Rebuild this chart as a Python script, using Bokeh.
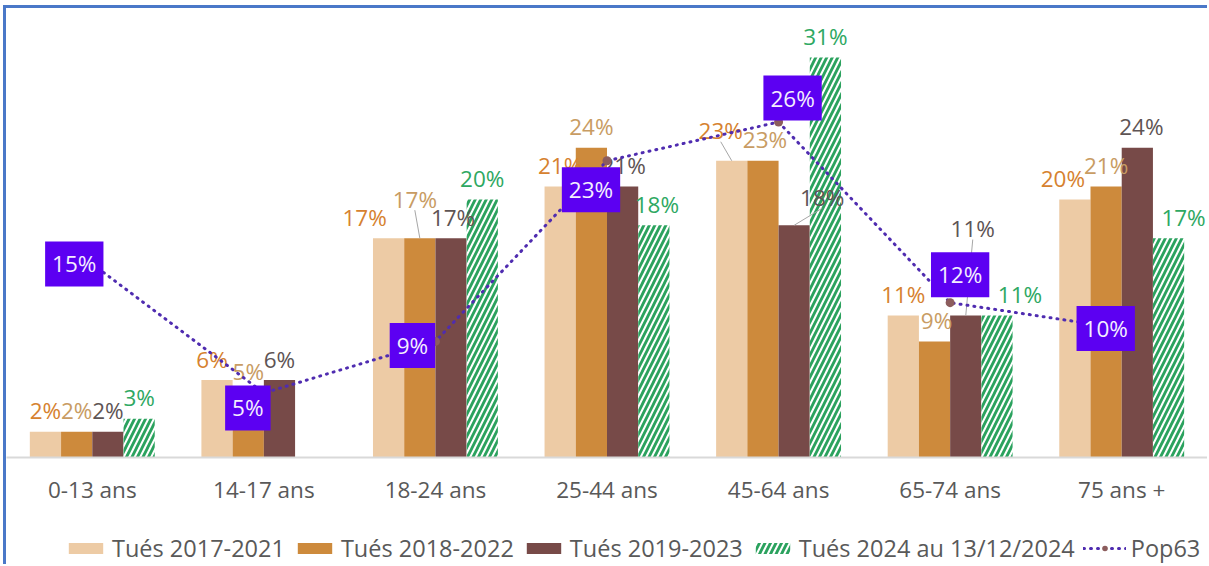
import math
from bokeh.plotting import figure
from bokeh.layouts import column
from bokeh.models import FactorRange, ColumnDataSource, Legend, LegendItem, Range1d
from bokeh.transform import dodge
from bokeh.core.properties import value
from bokeh.embed import file_html
from bokeh.resources import INLINE

# ---------------- data ----------------
categories = ["0-13 ans", "14-17 ans", "18-24 ans", "25-44 ans", "45-64 ans", "65-74 ans", "75 ans +"]
tues_2017_2021 = [2, 6, 17, 21, 23, 11, 20]
tues_2018_2022 = [2, 5, 17, 24, 23, 9, 21]
tues_2019_2023 = [2, 6, 17, 21, 18, 11, 24]
tues_2024 = [3, None, 20, 18, 31, 11, 17]
pop63 = [15, 5, 9, 23, 26, 12, 10]
series_names = ["Tués 2017-2021", "Tués 2018-2022", "Tués 2019-2023", "Tués 2024 au 13/12/2024"]
pop_name = "Pop63"

# ---------------- styles ----------------
FONT = "Open Sans"
FS = "22.5px"
LEG_FS = "23.5px"
bar_colors = ["#EDCBA5", "#CD8A3C", "#774A48", "#FFFFFF"]
label_colors = ["#D6822F", "#C89C63", "#5E5454", "#2EA862"]
hatch_color = "#2BA25E"
pop_line_color = "#4F2CB0"
pop_marker_color = "#8C5D5D"
pop_box_color = "#5C00F2"
leader_color = "#A6A6A6"
BAR_W = 0.182
offsets = [-1.5 * BAR_W, -0.5 * BAR_W, 0.5 * BAR_W, 1.5 * BAR_W]
LABEL_GAP = 21  # px above bar top (label centre)
Y_MAX = 34.8
W = 1201
FRAME_H = 449

# label nudges in px (dx right, dy up) to mimic manual placement in original
label_nudges = [
    [(0, 0), (-5, 0), (-24, 0), (0, 0), (-11, 9), (0, 0), (-12, 0)],
    [(0, 0), (0, 0), (-5, 18), (0, 0), (2, 0), (2, 0), (0, 0)],
    [(0, 0), (0, 0), (2, 0), (1, 0), (28, 7), (7, 66), (4, 0)],
    [(0, 0), (0, 0), (0, 0), (3, 0), (0, 0), (23, 0), (15, 0)],
]
pop_box_nudges = [(-18, 0), (-16, -15), (-23, -4), (-16, -29), (14, 24), (10, 28), (-16, 0)]

series = [tues_2017_2021, tues_2018_2022, tues_2019_2023, tues_2024]


def bar_style(i):
    kw = dict(fill_color=bar_colors[i], line_color=None)
    if i == 3:
        kw.update(hatch_pattern="/", hatch_color=hatch_color, hatch_scale=11, hatch_weight=2.8)
    return kw


p = figure(
    width=W, height=500,
    x_range=FactorRange(factors=categories, range_padding=0),
    y_range=Range1d(0, Y_MAX),
    output_backend="svg", toolbar_location=None,
    min_border_left=0, min_border_right=0, min_border_top=0, min_border_bottom=500 - FRAME_H,
)
p.outline_line_color = None
p.xgrid.visible = False
p.ygrid.visible = False
p.yaxis.visible = False
p.xaxis.axis_line_color = "#D9D9D9"
p.xaxis.axis_line_width = 2
p.xaxis.major_tick_line_color = None
p.xaxis.minor_tick_line_color = None
p.xaxis.major_tick_out = 0
p.xaxis.major_tick_in = 0
p.xaxis.minor_tick_out = 0
p.xaxis.minor_tick_in = 0
p.xaxis.major_label_text_font = FONT
p.xaxis.major_label_text_font_size = FS
p.xaxis.major_label_text_color = "#595959"
p.xaxis.major_label_standoff = 16

sources = []
for i, vals in enumerate(series):
    tops = [float("nan") if v is None else v for v in vals]
    src = ColumnDataSource(dict(
        cat=categories, top=tops,
        lbl=["" if v is None else f"{v}%" for v in vals],
        xo=[d[0] for d in label_nudges[i]],
        yo=[-LABEL_GAP - d[1] for d in label_nudges[i]],
    ))
    sources.append(src)
    p.vbar(x=dodge("cat", offsets[i], range=p.x_range), top="top", width=BAR_W,
           source=src, **bar_style(i))

# leader lines for labels that were pulled away from their bar
px_x = 7.0 / W          # categorical units per pixel
px_y = Y_MAX / FRAME_H  # value units per pixel
for i, vals in enumerate(series):
    for j, v in enumerate(vals):
        dx, dy = label_nudges[i][j]
        if v is None or dy < 7:
            continue
        lsrc = ColumnDataSource(dict(cat=[categories[j]], y0=[v],
                                     y1=[v + (LABEL_GAP + dy - 11) * px_y]))
        p.segment(x0=dodge("cat", offsets[i], range=p.x_range), y0="y0",
                  x1=dodge("cat", offsets[i] + dx * px_x, range=p.x_range), y1="y1",
                  source=lsrc, line_color=leader_color, line_width=1)

for i, src in enumerate(sources):
    p.text(x=dodge("cat", offsets[i], range=p.x_range), y="top", text="lbl", source=src,
           x_offset="xo", y_offset="yo", text_align="center", text_baseline="middle",
           text_font=value(FONT), text_font_size=FS, text_color=label_colors[i])

psrc = ColumnDataSource(dict(
    cat=categories, pop=pop63, lbl=[f"{v}%" for v in pop63],
    xo=[d[0] for d in pop_box_nudges], yo=[-d[1] for d in pop_box_nudges],
))
p.line(x="cat", y="pop", source=psrc, line_color=pop_line_color, line_width=3,
       line_dash="1 6", line_cap="round")
p.scatter(x="cat", y="pop", source=psrc, size=9, fill_color=pop_marker_color,
          line_color=None)
p.text(x="cat", y="pop", text="lbl", source=psrc, x_offset="xo", y_offset="yo",
       text_align="center", text_baseline="middle", text_font=value(FONT),
       text_font_size=FS, text_color="#F4EEFF",
       background_fill_color=pop_box_color, padding=7)

# ---------------- legend (separate strip below) ----------------
lf = figure(width=W, height=56, x_range=Range1d(0, 1), y_range=Range1d(0, 1),
            output_backend="svg", toolbar_location=None,
            min_border_left=0, min_border_right=0, min_border_top=0, min_border_bottom=0)
lf.axis.visible = False
lf.grid.visible = False
lf.outline_line_color = None
offview = ColumnDataSource(dict(x=[5, 6], top=[5, 5], y=[5, 5]))
items = []
for i in range(4):
    r = lf.vbar(x="x", top="top", width=0.1, source=offview, **bar_style(i))
    items.append(LegendItem(label=series_names[i], renderers=[r]))
rl = lf.line(x="x", y="y", source=offview, line_color=pop_line_color, line_width=3,
             line_dash="1 6", line_cap="round")
rm = lf.scatter(x="x", y="y", source=offview, size=9, fill_color=pop_marker_color, line_color=None)
items.append(LegendItem(label=pop_name, renderers=[rl, rm]))
legend = Legend(items=items, orientation="horizontal", location=(58, 0),
                label_text_font=FONT, label_text_font_size=LEG_FS, label_text_color="#595959",
                glyph_width=43, glyph_height=14, label_standoff=5, spacing=8,
                padding=0, margin=0, border_line_color=None, background_fill_alpha=0)
lf.add_layout(legend)

layout = column(p, lf, spacing=0,
                styles={"border-left": "3px solid #4A78C8", "border-top": "3px solid #4A78C8",
                        "margin-left": "3px", "margin-top": "5px"})

open("out.html", "w").write(file_html(layout, INLINE))
